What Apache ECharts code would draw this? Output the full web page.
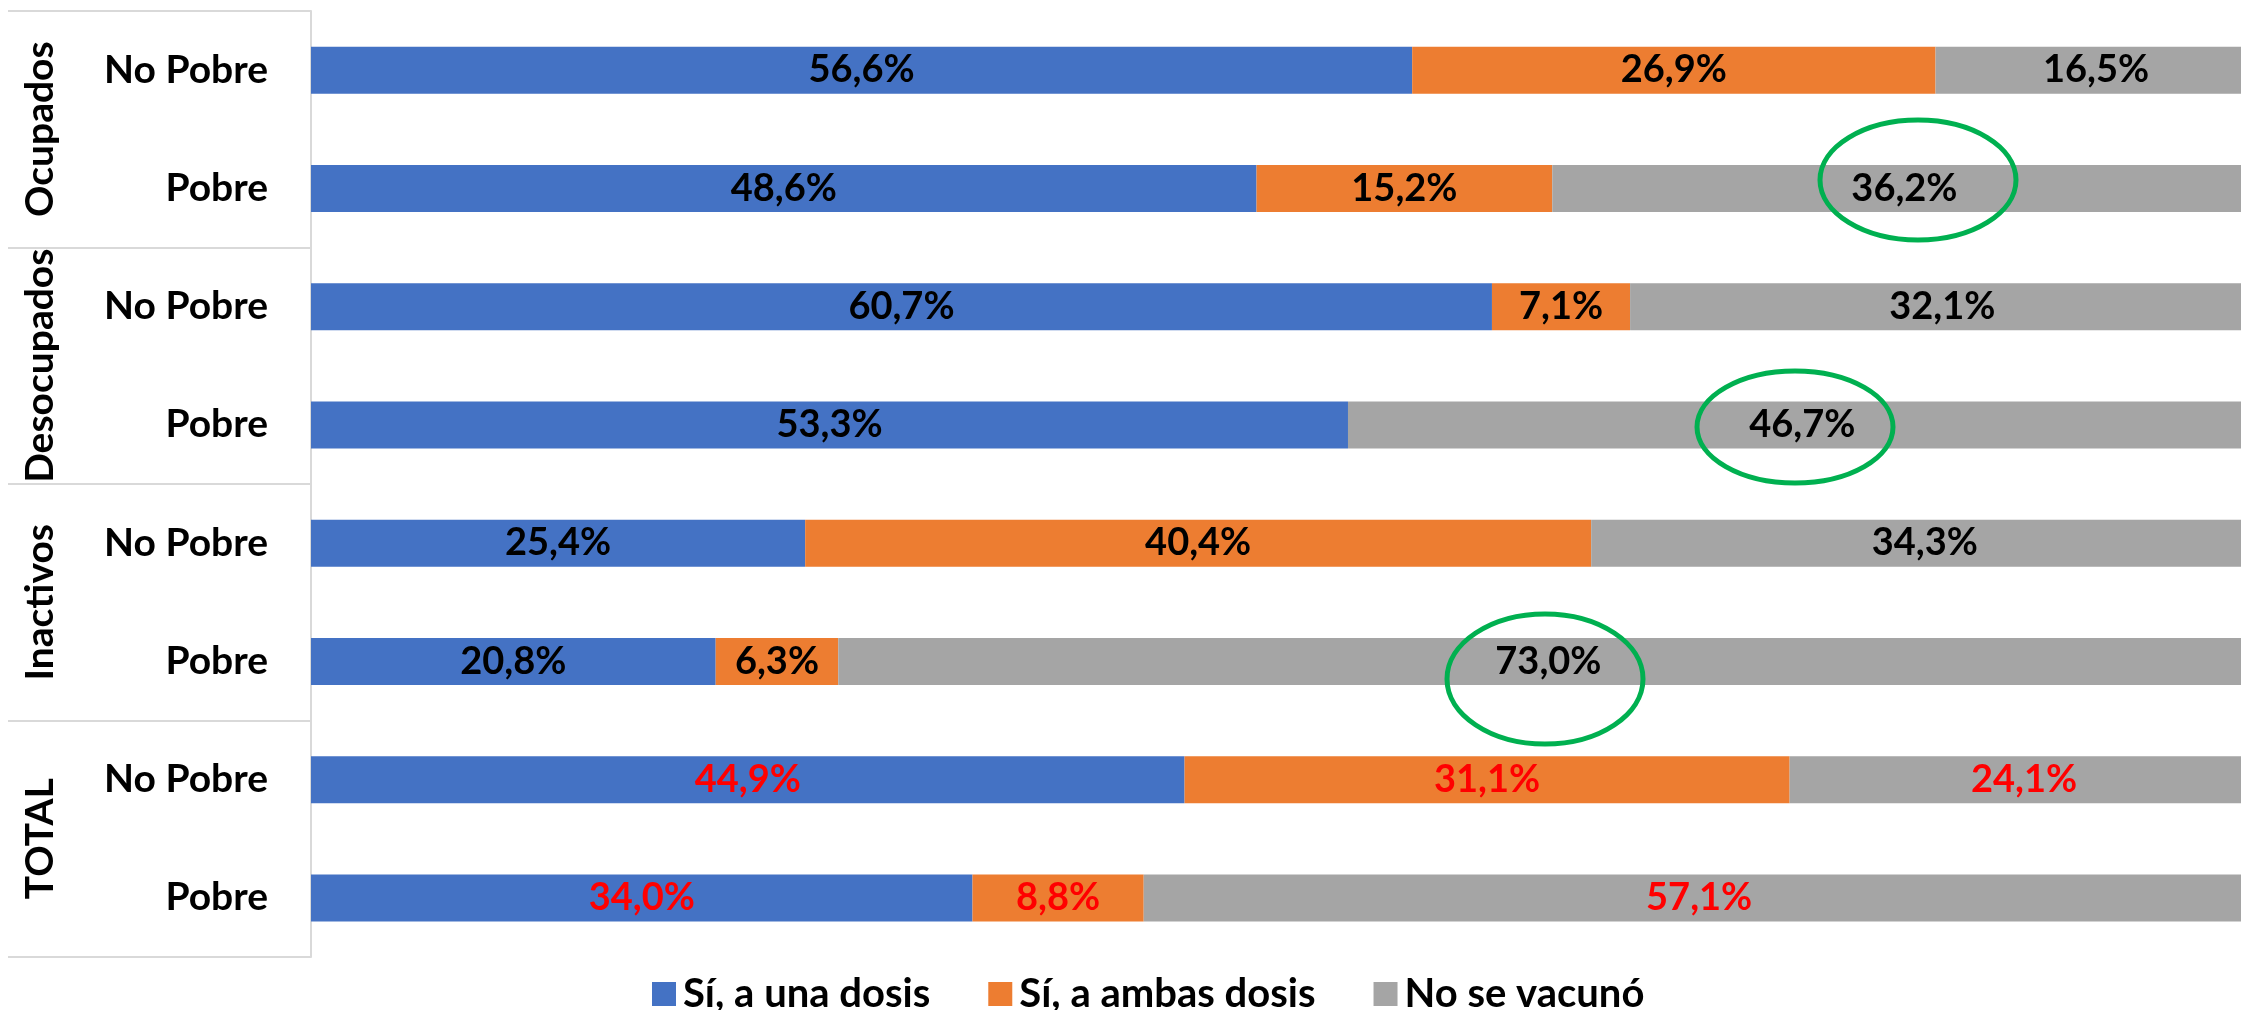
<!DOCTYPE html>
<html>
<head>
<meta charset="utf-8">
<title>Vacunación por condición de actividad y pobreza</title>
<script src="https://cdn.jsdelivr.net/npm/echarts@6/dist/echarts.min.js"></script>
<style>
  html, body { margin: 0; padding: 0; background: #fff; }
  #chart { width: 2241px; height: 1010px; }
</style>
</head>
<body>
<div id="chart"></div>
<script>
// grupos y filas (de arriba hacia abajo)
var groups = ['Ocupados', 'Desocupados', 'Inactivos', 'TOTAL'];
var rows = ['No Pobre', 'Pobre', 'No Pobre', 'Pobre', 'No Pobre', 'Pobre', 'No Pobre', 'Pobre'];
var seriesNames = ['Sí, a una dosis', 'Sí, a ambas dosis', 'No se vacunó'];

// valores en %
var unaDosis    = [56.6, 48.6, 60.7, 53.3, 25.4, 20.8, 44.9, 34.0];
var ambasDosis  = [26.9, 15.2, 7.1, 0, 40.4, 6.3, 31.1, 8.8];
var noVacuno    = [16.5, 36.2, 32.1, 46.7, 34.3, 73.0, 24.1, 57.1];

var colors = ['#4472c4', '#ed7d31', '#a5a5a5'];
var FONT = 'Lato, "Open Sans", sans-serif';

var chart = echarts.init(document.getElementById('chart'));

function makeSeries(name, values) {
  return {
    name: name,
    type: 'bar',
    stack: 'total',
    yAxisIndex: 0,
    barWidth: 47,
    clip: false,
    data: values,
    label: {
      show: true,
      position: 'inside',
      fontFamily: FONT,
      fontWeight: 'bold',
      fontSize: 38,
      color: '#000',
      formatter: function (p) {
        if (!p.value) return '';
        var txt = p.value.toFixed(1).replace('.', ',') + '%';
        // filas del TOTAL en rojo
        return p.dataIndex >= 6 ? '{r|' + txt + '}' : txt;
      },
      rich: {
        r: { color: '#ff0000', fontFamily: FONT, fontWeight: 'bold', fontSize: 38 }
      }
    },
    emphasis: { disabled: true }
  };
}

var option = {
  animation: false,
  color: colors,
  grid: { left: 311, top: 11, right: 0, height: 946 },
  // la barra del 100% se sale un poco del borde derecho, como en el original
  xAxis: { type: 'value', min: 0, max: 99.2, show: false },
  yAxis: [
    {
      type: 'category',
      inverse: true,
      data: rows,
      axisLine: { show: false },
      axisTick: { show: false },
      axisLabel: {
        margin: 43,
        fontFamily: FONT,
        fontWeight: 'bold',
        fontSize: 39,
        color: '#000'
      }
    },
    {
      type: 'category',
      inverse: true,
      position: 'left',
      data: groups,
      axisLine: { show: true, lineStyle: { color: '#d9d9d9', width: 2 } },
      axisTick: { show: true, length: 303, lineStyle: { color: '#d9d9d9', width: 2 } },
      axisLabel: {
        interval: 0,
        rotate: 90,
        margin: 251,
        fontFamily: FONT,
        fontWeight: 'bold',
        fontSize: 39,
        color: '#000'
      }
    }
  ],
  legend: {
    top: 969,
    left: 647,
    itemWidth: 24,
    itemHeight: 24,
    itemGap: 58,
    icon: 'rect',
    textStyle: { fontFamily: FONT, fontWeight: 'bold', fontSize: 40, color: '#000', padding: [0, 0, 0, 2] },
    data: seriesNames
  },
  series: [
    makeSeries(seriesNames[0], unaDosis),
    makeSeries(seriesNames[1], ambasDosis),
    makeSeries(seriesNames[2], noVacuno)
  ],
  graphic: [
    { type: 'ellipse', shape: { cx: 1918, cy: 180, rx: 98, ry: 60 }, style: { fill: 'none', stroke: '#00b050', lineWidth: 5 }, z: 100 },
    { type: 'ellipse', shape: { cx: 1795, cy: 427, rx: 98, ry: 56 }, style: { fill: 'none', stroke: '#00b050', lineWidth: 5 }, z: 100 },
    { type: 'ellipse', shape: { cx: 1545, cy: 679, rx: 98, ry: 65 }, style: { fill: 'none', stroke: '#00b050', lineWidth: 5 }, z: 100 }
  ]
};

chart.setOption(option);
</script>
</body>
</html>
